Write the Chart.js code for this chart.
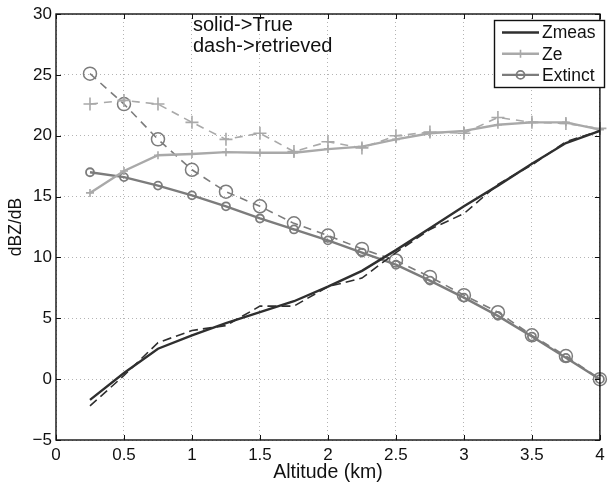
<!DOCTYPE html>
<html lang="en">
<head>
    <meta charset="UTF-8">
    <title>dBZ/dB vs Altitude</title>
    <script src="https://cdn.jsdelivr.net/npm/chart.js@4/dist/chart.umd.min.js"></script>
    <style>
        html, body { margin: 0; padding: 0; background: #fff; }
        #wrap { width: 608px; height: 484px; }
    </style>
</head>
<body>
    <div id="wrap"><canvas id="myChart" width="608" height="484"></canvas></div>
    <script>
        // altitude grid (km)
        const altitude = [0.25, 0.5, 0.75, 1.0, 1.25, 1.5, 1.75, 2.0, 2.25, 2.5, 2.75, 3.0, 3.25, 3.5, 3.75, 4.0];

        // true profiles (solid)
        const zmeasTrue = [-1.7, 0.5, 2.5, 3.6, 4.6, 5.5, 6.4, 7.6, 8.9, 10.6, 12.4, 14.2, 15.9, 17.7, 19.4, 20.4];
        const zeTrue = [15.3, 17.1, 18.4, 18.5, 18.65, 18.6, 18.6, 18.9, 19.1, 19.7, 20.2, 20.4, 20.9, 21.1, 21.1, 20.5];
        const extTrue = [17.0, 16.6, 15.9, 15.1, 14.2, 13.2, 12.3, 11.4, 10.4, 9.4, 8.1, 6.7, 5.2, 3.5, 1.75, 0.0];

        // retrieved profiles (dashed)
        const zmeasRet = [-2.2, 0.3, 3.0, 4.0, 4.4, 6.0, 6.0, 7.6, 8.3, 10.4, 12.3, 13.6, 16.0, 17.6, 19.5, 20.4];
        const zeRet = [22.6, 22.9, 22.6, 21.1, 19.7, 20.2, 18.7, 19.5, 19.0, 20.0, 20.3, 20.2, 21.5, 21.1, 21.0, 20.6];
        const extRet = [25.1, 22.6, 19.7, 17.2, 15.4, 14.2, 12.8, 11.8, 10.7, 9.75, 8.4, 6.9, 5.5, 3.6, 1.9, 0.0];

        const xTicks = [0, 0.5, 1, 1.5, 2, 2.5, 3, 3.5, 4];
        const yTicks = [-5, 0, 5, 10, 15, 20, 25, 30];
        const noteLines = ['solid->True', 'dash->retrieved'];

        const FONT = '"Liberation Sans", Arial, Helvetica, sans-serif';
        const C_ZMEAS = '#2f2f2f';
        const C_ZE = '#a9a9a9';
        const C_EXT = '#7c7c7c';

        const pts = arr => altitude.map((x, i) => ({ x: x, y: arr[i] }));

        function series(label, arr, color, opts) {
            return Object.assign({
                label: label,
                data: pts(arr),
                borderColor: color,
                backgroundColor: 'rgba(0,0,0,0)',
                pointBorderColor: color,
                pointBackgroundColor: 'rgba(0,0,0,0)',
                borderWidth: 2.4,
                pointRadius: 0,
                pointBorderWidth: 1.8,
                tension: 0,
                clip: false
            }, opts);
        }

        const datasets = [
            series('Zmeas', zmeasTrue, C_ZMEAS, {}),
            series('Zmeas retrieved', zmeasRet, C_ZMEAS, { borderWidth: 1.6, borderDash: [9, 5] }),
            series('Ze', zeTrue, C_ZE, { pointStyle: 'cross', pointRadius: 4, pointBorderWidth: 1.6 }),
            series('Ze retrieved', zeRet, C_ZE, { borderWidth: 1.6, borderDash: [8, 6], pointStyle: 'cross', pointRadius: 6.5, pointBorderWidth: 1.6 }),
            series('Extinct', extTrue, C_EXT, { pointStyle: 'circle', pointRadius: 4, pointBorderWidth: 1.8 }),
            series('Extinct retrieved', extRet, C_EXT, { borderWidth: 1.6, borderDash: [8, 6], pointStyle: 'circle', pointRadius: 6.5, pointBorderWidth: 1.5 })
        ];

        // box, inward ticks, text note and legend in the matlab style
        const decor = {
            id: 'decor',
            afterDatasetsDraw(chart) {
                const { ctx, chartArea: a, scales } = chart;
                const xs = scales.x, ys = scales.y;
                ctx.save();
                ctx.strokeStyle = '#111';
                ctx.lineWidth = 1.4;
                ctx.setLineDash([]);
                ctx.strokeRect(a.left, a.top, a.right - a.left, a.bottom - a.top);
                ctx.lineWidth = 1;
                ctx.beginPath();
                xTicks.forEach(v => {
                    const px = Math.round(xs.getPixelForValue(v)) + 0.5;
                    ctx.moveTo(px, a.bottom); ctx.lineTo(px, a.bottom - 5);
                    ctx.moveTo(px, a.top); ctx.lineTo(px, a.top + 5);
                });
                yTicks.forEach(v => {
                    const py = Math.round(ys.getPixelForValue(v)) + 0.5;
                    ctx.moveTo(a.left, py); ctx.lineTo(a.left + 5, py);
                    ctx.moveTo(a.right, py); ctx.lineTo(a.right - 5, py);
                });
                ctx.stroke();

                // note text
                ctx.fillStyle = '#111';
                ctx.font = '20px ' + FONT;
                ctx.textAlign = 'left';
                ctx.textBaseline = 'middle';
                const nx = xs.getPixelForValue(1) + 1;
                const ny = ys.getPixelForValue(28.2);
                ctx.fillText(noteLines[0], nx, ny - 10.75);
                ctx.fillText(noteLines[1], nx, ny + 10.75);

                // legend
                const entries = [0, 2, 4].map(i => chart.data.datasets[i]);
                const bx = 494.5, by = 20.5, bw = 110, bh = 67;
                ctx.fillStyle = '#fff';
                ctx.fillRect(bx, by, bw, bh);
                ctx.strokeStyle = '#111';
                ctx.lineWidth = 1.4;
                ctx.strokeRect(bx, by, bw, bh);
                ctx.font = '17.5px ' + FONT;
                entries.forEach((ds, k) => {
                    const cy = 32.5 + k * 21.2;
                    ctx.strokeStyle = ds.borderColor;
                    ctx.lineWidth = ds.borderWidth;
                    ctx.beginPath();
                    ctx.moveTo(502, cy); ctx.lineTo(539, cy);
                    ctx.stroke();
                    if (ds.pointRadius > 0) {
                        ctx.strokeStyle = ds.pointBorderColor;
                        ctx.fillStyle = 'rgba(0,0,0,0)';
                        ctx.lineWidth = ds.pointBorderWidth;
                        Chart.helpers.drawPoint(ctx, { pointStyle: ds.pointStyle, radius: ds.pointRadius, borderWidth: ds.pointBorderWidth, rotation: 0 }, 520.5, cy);
                    }
                    ctx.fillStyle = '#111';
                    ctx.fillText(ds.label, 542, cy + 1);
                });
                ctx.restore();
            }
        };

        const ctx = document.getElementById('myChart').getContext('2d');
        const myChart = new Chart(ctx, {
            type: 'line',
            data: { datasets: datasets },
            plugins: [decor],
            options: {
                animation: false,
                responsive: false,
                devicePixelRatio: 1,
                layout: { padding: { left: 0, right: 2, top: 14, bottom: 0 } },
                plugins: { legend: { display: false }, tooltip: { enabled: false } },
                scales: {
                    x: {
                        type: 'linear',
                        min: 0,
                        max: 4,
                        afterBuildTicks: s => { s.ticks = xTicks.map(v => ({ value: v })); },
                        afterFit: s => { s.height = 44; s.paddingLeft = 0; s.paddingRight = 0; },
                        ticks: {
                            autoSkip: false,
                            maxRotation: 0,
                            padding: 5,
                            color: '#111',
                            font: { family: FONT, size: 17 },
                            callback: v => String(v)
                        },
                        grid: { color: '#b4b4b4', lineWidth: 1, drawTicks: false },
                        border: { display: false, dash: [1, 3] },
                        title: {
                            display: true,
                            text: 'Altitude (km)',
                            color: '#111',
                            font: { family: FONT, size: 19.5 },
                            padding: { top: 0, bottom: 0 }
                        }
                    },
                    y: {
                        type: 'linear',
                        min: -5,
                        max: 30,
                        afterBuildTicks: s => { s.ticks = yTicks.map(v => ({ value: v })); },
                        afterFit: s => { s.width = 56; s.paddingTop = 0; s.paddingBottom = 0; },
                        ticks: {
                            padding: 4,
                            color: '#111',
                            font: { family: FONT, size: 17 },
                            callback: v => v < 0 ? '\u2212' + Math.abs(v) : String(v)
                        },
                        grid: { color: '#b4b4b4', lineWidth: 1, drawTicks: false },
                        border: { display: false, dash: [1, 3] },
                        title: {
                            display: true,
                            text: 'dBZ/dB',
                            color: '#111',
                            font: { family: FONT, size: 17.5 },
                            padding: { top: 6, bottom: 0 }
                        }
                    }
                }
            }
        });
    </script>
</body>
</html>
